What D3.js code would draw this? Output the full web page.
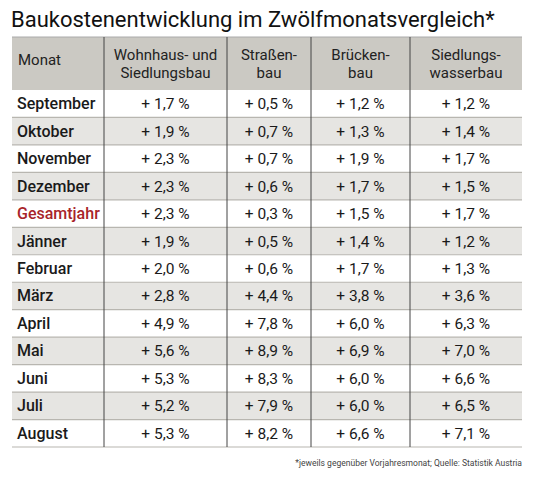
<!DOCTYPE html>
<html><head><meta charset="utf-8">
<script src="https://cdn.jsdelivr.net/npm/d3@7"></script>
<style>body{margin:0;background:#fff}</style>
</head><body>
<svg id="chart" width="533" height="480"></svg>
<script>
var title = "Baukostenentwicklung im Zwölfmonatsvergleich*";
var footnote = "*jeweils gegenüber Vorjahresmonat; Quelle: Statistik Austria";
var headers = [["Monat"], ["Wohnhaus- und", "Siedlungsbau"], ["Straßen-", "bau"], ["Brücken-", "bau"], ["Siedlungs-", "wasserbau"]];
var months = ["September","Oktober","November","Dezember","Gesamtjahr","Jänner","Februar","März","April","Mai","Juni","Juli","August"];
var wohnhaus = [1.7,1.9,2.3,2.3,2.3,1.9,2.0,2.8,4.9,5.6,5.3,5.2,5.3];
var strassen = [0.5,0.7,0.7,0.6,0.3,0.5,0.6,4.4,7.8,8.9,8.3,7.9,8.2];
var bruecken = [1.2,1.3,1.9,1.7,1.5,1.4,1.7,3.8,6.0,6.9,6.0,6.0,6.6];
var wasser = [1.2,1.4,1.7,1.5,1.7,1.2,1.3,3.6,6.3,7.0,6.6,6.5,7.1];
var series = [wohnhaus, strassen, bruecken, wasser];

var svg = d3.select('#chart');
var font = "Roboto, sans-serif";
var colEdges = [12, 104, 227, 311, 410, 522];
var headTop = 37, headBottom = 90, tableBottom = 447;

var y = d3.scaleBand().domain(months).range([headBottom, tableBottom]);
var fmt = function(v){ return "+ " + d3.format(".1f")(v).replace(".", ",") + " %"; };

svg.append('text').attr('x', 11).attr('y', 27).attr('font-family', font)
	.attr('font-size', 22).attr('fill', '#111').text(title);

svg.append('rect').attr('x', 12).attr('y', headTop).attr('width', 510)
	.attr('height', headBottom - headTop).attr('fill', '#cbc9c3');

svg.selectAll('rect.row').data(months).enter().append('rect')
	.attr('x', 12).attr('y', function(d){ return y(d); })
	.attr('width', 510).attr('height', y.bandwidth())
	.attr('fill', function(d, i){ return i % 2 ? '#e6e5e2' : '#fff'; });

// horizontal lines
svg.selectAll('line.h').data(months).enter().append('line')
	.attr('x1', 12).attr('x2', 522)
	.attr('y1', function(d){ return y(d) + y.bandwidth(); })
	.attr('y2', function(d){ return y(d) + y.bandwidth(); })
	.attr('stroke', '#b8b6b0').attr('stroke-width', 1.2);
svg.append('line').attr('x1', 12).attr('x2', 522).attr('y1', headTop).attr('y2', headTop)
	.attr('stroke', '#aaa').attr('stroke-width', 1);

// vertical lines
svg.selectAll('line.v').data(colEdges.slice(1, -1)).enter().append('line')
	.attr('x1', function(d){ return d; }).attr('x2', function(d){ return d; })
	.attr('y1', headTop).attr('y2', tableBottom)
	.attr('stroke', '#444').attr('stroke-width', 1);

// header text
headers.forEach(function(h, c){
	var cx = c == 0 ? 18 : (colEdges[c] + colEdges[c+1]) / 2;
	var t = svg.append('text').attr('font-family', font).attr('font-size', 15)
		.attr('fill', '#222').attr('text-anchor', c == 0 ? 'start' : 'middle');
	h.forEach(function(line, k){
		var yy = h.length == 1 ? 65 : 60 + k * 18;
		t.append('tspan').attr('x', cx).attr('y', yy).text(line);
	});
});

// month labels
svg.selectAll('text.m').data(months).enter().append('text')
	.attr('x', 17).attr('y', function(d){ return y(d) + y.bandwidth() / 2 + 5.5; })
	.attr('font-family', font).attr('font-size', 16).attr('font-weight', 500)
	.attr('fill', function(d){ return d == 'Gesamtjahr' ? '#a8242a' : '#1a1a1a'; })
	.text(function(d){ return d; });

series.forEach(function(s, c){
	var cx = (colEdges[c+1] + colEdges[c+2]) / 2;
	svg.selectAll('text.v' + c).data(s).enter().append('text')
		.attr('x', cx).attr('y', function(d, i){ return y(months[i]) + y.bandwidth() / 2 + 5.5; })
		.attr('text-anchor', 'middle').attr('font-family', font).attr('font-size', 15.5)
		.attr('fill', '#1a1a1a').text(fmt);
});

svg.append('text').attr('x', 522).attr('y', 466).attr('text-anchor', 'end')
	.attr('font-family', font).attr('font-size', 9.5).attr('fill', '#444')
	.attr('transform', 'translate(522,0) scale(0.9,1) translate(-522,0)')
	.text(footnote);
</script>
</body></html>
